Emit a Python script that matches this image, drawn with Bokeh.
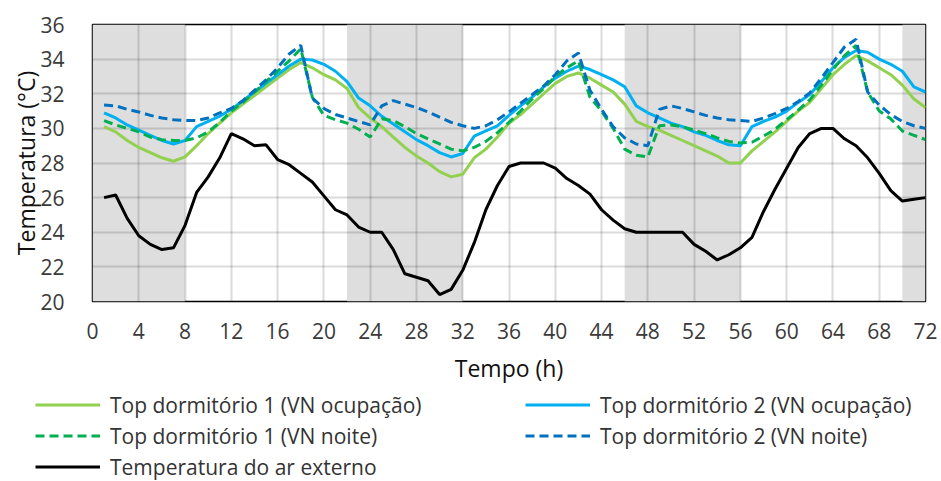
from bokeh.plotting import figure
from bokeh.layouts import column
from bokeh.models import Legend, LegendItem, BoxAnnotation, FixedTicker, Range1d
from bokeh.embed import file_html
from bokeh.resources import INLINE

# ---------------- data ----------------
hours = list(range(1, 73))

top_d1_ocup = [30.1, 29.8, 29.3, 28.9, 28.6, 28.3, 28.1, 28.35, 29.0, 29.7,
               30.3, 30.9, 31.4, 31.9, 32.4, 32.9, 33.4, 33.8, 33.5, 33.1,
               32.8, 32.3, 31.2, 30.6, 30.1, 29.5, 28.9, 28.4, 28.0, 27.5,
               27.2, 27.35, 28.3, 28.8, 29.5, 30.3, 30.8, 31.4, 32.0, 32.6,
               33.0, 33.2, 32.9, 32.5, 32.1, 31.4, 30.4, 30.1, 29.9, 29.6,
               29.3, 29.0, 28.7, 28.4, 28.0, 28.0, 28.7, 29.25, 29.8, 30.4,
               31.0, 31.5, 32.3, 33.1, 33.7, 34.2, 33.9, 33.5, 33.1, 32.5,
               31.7, 31.2]

top_d2_ocup = [30.9, 30.6, 30.2, 29.9, 29.6, 29.3, 29.1, 29.3, 30.1, 30.4,
               30.7, 31.1, 31.6, 32.1, 32.6, 33.1, 33.6, 34.0, 33.95, 33.7,
               33.3, 32.7, 31.75, 31.3, 30.7, 30.25, 29.8, 29.35, 29.0, 28.6,
               28.35, 28.55, 29.55, 29.85, 30.15, 30.75, 31.3, 31.8, 32.4, 32.9,
               33.3, 33.6, 33.4, 33.1, 32.8, 32.4, 31.3, 30.9, 30.6, 30.3,
               30.1, 29.8, 29.6, 29.3, 29.05, 29.0, 30.1, 30.4, 30.65, 31.0,
               31.5, 31.95, 32.7, 33.5, 34.1, 34.5, 34.4, 34.0, 33.7, 33.3,
               32.4, 32.1]

top_d1_noite = [30.45, 30.2, 30.0, 29.8, 29.5, 29.35, 29.3, 29.3, 29.45, 29.8,
                30.35, 31.0, 31.5, 32.1, 32.7, 33.3, 33.9, 34.6, 31.8, 30.75,
                30.5, 30.3, 29.95, 29.5, 30.55, 30.45, 30.1, 29.7, 29.4, 29.1,
                28.8, 28.7, 28.9, 29.25, 29.75, 30.35, 31.0, 31.7, 32.3, 33.0,
                33.5, 33.9, 31.8, 31.0, 30.0, 28.8, 28.45, 28.35, 30.15, 30.2,
                30.1, 29.9, 29.7, 29.45, 29.25, 29.15, 29.2, 29.55, 29.95, 30.5,
                31.05, 31.65, 32.5, 33.4, 34.2, 34.8, 32.1, 31.0, 30.55, 29.85,
                29.6, 29.35]

top_d2_noite = [31.35, 31.3, 31.1, 30.95, 30.75, 30.6, 30.5, 30.45, 30.45, 30.6,
                30.9, 31.15, 31.6, 32.2, 32.8, 33.5, 34.3, 34.8, 31.75, 31.15,
                30.8, 30.6, 30.4, 30.2, 31.3, 31.6, 31.4, 31.2, 30.95, 30.65,
                30.35, 30.15, 30.0, 30.15, 30.5, 30.95, 31.45, 31.95, 32.45, 33.1,
                33.9, 34.35, 32.2, 31.1, 30.1, 29.45, 29.1, 29.0, 31.1, 31.3,
                31.15, 30.95, 30.75, 30.6, 30.5, 30.45, 30.4, 30.6, 30.85, 31.15,
                31.55, 32.05, 32.9, 33.8, 34.7, 35.15, 32.1, 31.35, 30.8, 30.4,
                30.15, 30.0]

temp_ext = [26.0, 26.15, 24.8, 23.8, 23.3, 23.0, 23.1, 24.4, 26.3, 27.2,
            28.3, 29.7, 29.4, 29.0, 29.05, 28.2, 27.9, 27.4, 26.9, 26.1,
            25.3, 25.0, 24.3, 24.0, 24.0, 23.0, 21.6, 21.4, 21.2, 20.4,
            20.7, 21.8, 23.4, 25.3, 26.7, 27.8, 28.0, 28.0, 28.0, 27.7,
            27.1, 26.7, 26.2, 25.3, 24.7, 24.2, 24.0, 24.0, 24.0, 24.0,
            24.0, 23.3, 22.9, 22.4, 22.7, 23.1, 23.7, 25.2, 26.5, 27.7,
            28.9, 29.7, 30.0, 30.0, 29.4, 29.0, 28.3, 27.4, 26.4, 25.8,
            25.9, 26.0]

night_periods = [(0, 8), (22, 32), (46, 56), (70, 72)]

series_labels = ["Top dormitório 1 (VN ocupação)", "Top dormitório 2 (VN ocupação)",
                 "Top dormitório 1 (VN noite)", "Top dormitório 2 (VN noite)",
                 "Temperatura do ar externo"]

x_ticks = list(range(0, 73, 4))
y_ticks = list(range(20, 37, 2))

FONT = "Open Sans"
styles = [dict(line_color="#92D050", line_width=3),
          dict(line_color="#00B0F0", line_width=3),
          dict(line_color="#00B050", line_width=3, line_dash="9 5"),
          dict(line_color="#0070C0", line_width=3, line_dash="9 5"),
          dict(line_color="#000000", line_width=3)]
series = [top_d1_ocup, top_d2_ocup, top_d1_noite, top_d2_noite, temp_ext]

# ---------------- main figure ----------------
p = figure(width=941, height=389, x_range=Range1d(0, 72), y_range=Range1d(20, 36),
           output_backend="svg", toolbar_location=None,
           min_border_left=92, min_border_right=16, min_border_top=24,
           min_border_bottom=88)
p.frame_align = False
p.background_fill_color = "white"
p.border_fill_color = "white"
p.outline_line_color = "black"
p.outline_line_width = 1.5

for a, b in night_periods:
    p.add_layout(BoxAnnotation(left=a, right=b, fill_color="#DEDEDE", fill_alpha=1.0,
                               line_alpha=0, level="image"))

p.xaxis.ticker = FixedTicker(ticks=x_ticks)
p.yaxis.ticker = FixedTicker(ticks=y_ticks)
p.xgrid.ticker = FixedTicker(ticks=x_ticks)
p.ygrid.ticker = FixedTicker(ticks=y_ticks)
p.grid.grid_line_color = "black"
p.grid.grid_line_alpha = 0.14
p.grid.grid_line_width = 2

for ax in (p.xaxis, p.yaxis):
    ax.axis_line_color = None
    ax.major_tick_line_color = None
    ax.minor_tick_line_color = None
    ax.major_label_text_font = FONT
    ax.major_label_text_font_size = "21px"
    ax.major_label_text_color = "#3a3a3a"
    ax.axis_label_text_font = FONT
    ax.axis_label_text_font_style = "normal"
    ax.axis_label_text_color = "#111111"
    ax.axis_label_text_font_size = "23px"

p.xaxis.axis_label = "Tempo (h)"
p.yaxis.axis_label = "Temperatura (°C)"
p.xaxis.major_label_standoff = 15
p.xaxis.axis_label_standoff = 10
p.yaxis.major_label_standoff = 22
p.yaxis.axis_label_standoff = -5

for vals, st in zip(series, styles):
    p.line(hours, vals, **st)

# ---------------- legend strip ----------------
# same series drawn again, but the view range keeps them out of sight: only legend shows
q = figure(width=941, height=92, x_range=Range1d(-2, -1), y_range=Range1d(0, 1),
           output_backend="svg", toolbar_location=None,
           x_axis_location=None, y_axis_location=None,
           min_border=0, min_border_left=0, min_border_right=0,
           min_border_top=0, min_border_bottom=0)
q.frame_align = False
q.outline_line_color = None
q.grid.visible = False
q.background_fill_color = "white"
q.border_fill_color = "white"

legend_renderers = [q.line(hours, vals, **st) for vals, st in zip(series, styles)]


def make_legend(idx, loc):
    lg = Legend(items=[LegendItem(label=series_labels[i], renderers=[legend_renderers[i]])
                       for i in idx], location=loc)
    lg.glyph_width = 65
    lg.glyph_height = 31
    lg.label_height = 31
    lg.spacing = 0
    lg.padding = 0
    lg.margin = 0
    lg.label_standoff = 10
    lg.border_line_alpha = 0
    lg.background_fill_alpha = 0
    lg.label_text_font = FONT
    lg.label_text_font_size = "21px"
    lg.label_text_color = "#333333"
    return lg


q.add_layout(make_legend([0, 2, 4], (35, -1)))
q.add_layout(make_legend([1, 3], (525, 30)))

layout = column(p, q, spacing=0)
open("out.html", "w").write(file_html(layout, INLINE))
